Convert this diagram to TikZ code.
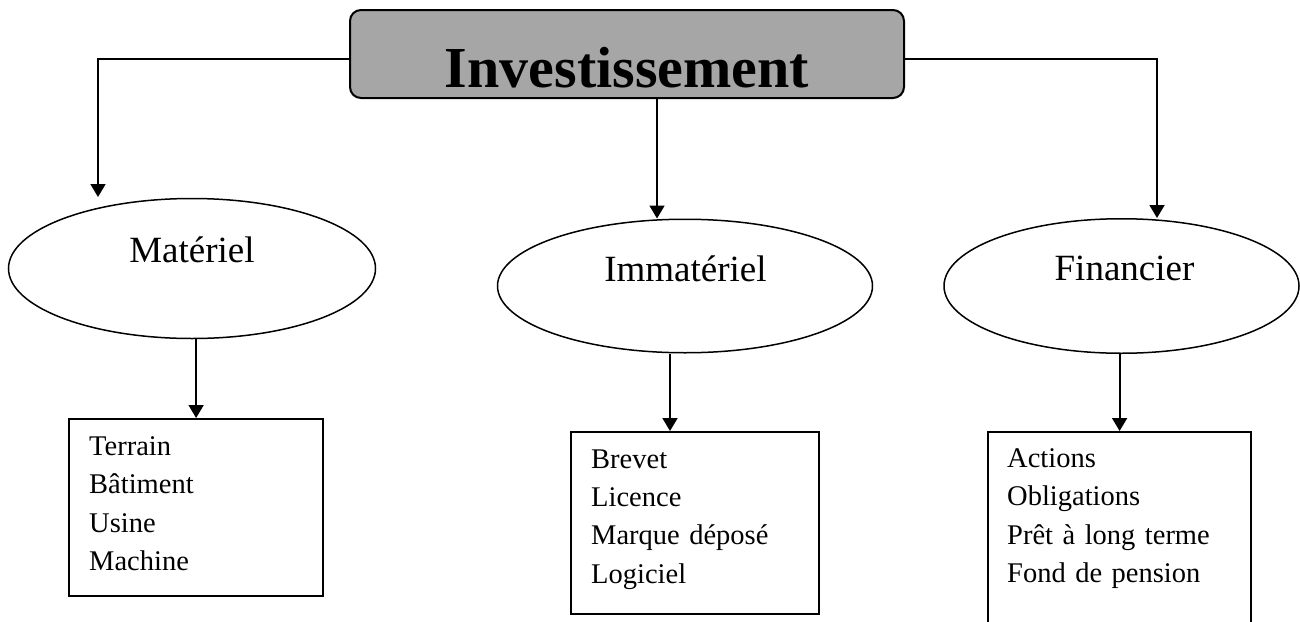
\documentclass[tikz,border=0pt]{standalone}
\usepackage{fontspec}
\setmainfont{Liberation Serif}
\usetikzlibrary{arrows.meta,shapes.geometric}
\definecolor{boxgray}{RGB}{166,166,166}
\begin{document}
\begin{tikzpicture}[x=1pt,y=-1pt,
  conn/.style={line width=1.8pt,-{Triangle[length=13pt,width=15pt]}},
  topbox/.style={draw,rectangle,line width=2pt,fill=boxgray,rounded corners=11pt,inner sep=0pt},
  ell/.style={draw,ellipse,line width=1.5pt,inner sep=0pt},
  listbox/.style={draw,rectangle,line width=2.2pt,inner sep=0pt,anchor=north west},
  elltxt/.style={font=\fontsize{37}{44}\selectfont,anchor=base,inner sep=0pt},
  titletxt/.style={font=\fontsize{58}{70}\selectfont\bfseries,anchor=base,inner sep=0pt},
  listtxt/.style={font=\fontsize{28.5}{38.3}\selectfont,anchor=north west,inner sep=0pt,text width=245pt,align=left}]
\useasboundingbox (0,0) rectangle (1300,621);
\clip (0,0) rectangle (1300,621);

% top box
\node[topbox,minimum width=554pt,minimum height=88pt] (inv) at (627,54) {};
\node[titletxt] (invt) at (627,87) {Investissement};

% ellipses
\node[ell,minimum width=367pt,minimum height=140pt] (mat) at (192,268.5) {};
\node[elltxt] (matt) at (192,262) {Matériel};
\node[ell,minimum width=375pt,minimum height=133.5pt] (imm) at (685,286) {};
\node[elltxt] (immt) at (685.5,281.7) {Immatériel};
\node[ell,minimum width=355pt,minimum height=134.5pt] (fin) at (1121.5,286) {};
\node[elltxt] (fint) at (1124.5,280.7) {Financier};

% list boxes
\node[listbox,minimum width=254pt,minimum height=177pt] (b1) at (68,418) {};
\node[listbox,minimum width=248pt,minimum height=182pt] (b2) at (570,431) {};
\node[listbox,minimum width=263pt,minimum height=220pt] (b3) at (987,431) {};
\node[listtxt] (t1) at (89,436.5) {Terrain\\Bâtiment\\Usine\\Machine};
\node[listtxt] (t2) at (591,449.4) {Brevet\\Licence\\Marque déposé\\Logiciel};
\node[listtxt] (t3) at (1007,448.5) {Actions\\Obligations\\Prêt à long terme\\Fond de pension};

% connectors
\coordinate (lt) at (98,197);
\coordinate (rt) at (1157,218);
\draw[conn] (inv.west |- 0,59) -| (lt);
\draw[conn] (inv.east |- 0,59) -| (rt);
\draw[conn] (inv.south -| 657,0) -- (imm.north -| 657,0);
\draw[conn] (mat.south -| b1.north) -- (b1.north);
\draw[conn] (imm.south -| 670,0) -- (b2.north -| 670,0);
\draw[conn] (fin.south -| b3.north) -- (b3.north);
\end{tikzpicture}
\end{document}
